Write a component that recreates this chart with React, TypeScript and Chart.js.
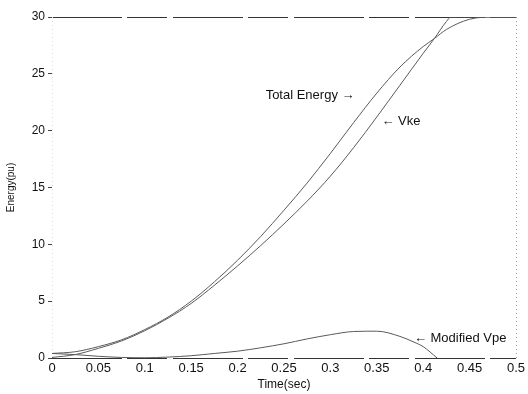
import React, { useEffect, useRef } from "react";
import { Chart, registerables } from "chart.js";

Chart.register(...registerables);

// Time samples (sec) and energies (pu)
const timeTotal = [0, 0.025, 0.05, 0.075, 0.1, 0.125, 0.15, 0.175, 0.2, 0.225, 0.25, 0.275, 0.3, 0.325, 0.35, 0.375, 0.4, 0.412, 0.425, 0.45, 0.475, 0.5];
const totalEnergy = [0.4, 0.55, 1.0, 1.6, 2.5, 3.6, 5.0, 6.7, 8.6, 10.7, 13.0, 15.4, 18.0, 20.7, 23.3, 25.6, 27.4, 28.1, 28.9, 29.8, 30.0, 30.0];

const timeVke = [0, 0.025, 0.05, 0.075, 0.1, 0.125, 0.15, 0.175, 0.2, 0.225, 0.25, 0.275, 0.3, 0.325, 0.35, 0.375, 0.4, 0.412, 0.425, 0.43, 0.45, 0.5];
const vke = [0.05, 0.3, 0.85, 1.5, 2.4, 3.5, 4.8, 6.4, 8.1, 9.9, 11.8, 13.8, 16.0, 18.5, 21.2, 24.0, 26.8, 28.1, 29.6, 30.0, 30.0, 30.0];

const timeVpe = [0, 0.025, 0.05, 0.075, 0.1, 0.125, 0.15, 0.175, 0.2, 0.225, 0.25, 0.275, 0.3, 0.325, 0.35, 0.375, 0.39, 0.4, 0.415];
const modifiedVpe = [0.4, 0.3, 0.15, 0.05, 0.02, 0.08, 0.2, 0.4, 0.6, 0.9, 1.25, 1.68, 2.05, 2.33, 2.36, 1.9, 1.4, 1.0, 0.0];

const xTickLabels = ["0", "0.05", "0.1", "0.15", "0.2", "0.25", "0.3", "0.35", "0.4", "0.45", "0.5"];
const yTickLabels = ["0", "5", "10", "15", "20", "25", "30"];

// Annotations: [text, x, y, align]
const annotations: [string, number, number, CanvasTextAlign][] = [
  ["Total Energy \u2192", 0.326, 23.1, "right"],
  ["\u2190 Vke", 0.355, 20.8, "left"],
  ["\u2190 Modified Vpe", 0.39, 1.76, "left"],
];

const FONT = "Arial, 'Liberation Sans', 'DejaVu Sans', sans-serif";

const toPts = (xs: number[], ys: number[]) => xs.map((x, i) => ({ x, y: ys[i] }));

export default function App() {
  const ref = useRef<HTMLCanvasElement>(null);
  useEffect(() => {
    if (!ref.current) return;
    const framePlugin = {
      id: "frame",
      beforeDatasetsDraw(chart: any) {
        const { ctx, chartArea: a } = chart;
        ctx.save();
        ctx.strokeStyle = "#333";
        ctx.lineWidth = 1;
        ctx.setLineDash([70, 5, 40, 6]);
        ctx.beginPath();
        ctx.moveTo(a.left, a.top + 0.5);
        ctx.lineTo(a.right, a.top + 0.5);
        ctx.moveTo(a.left, a.bottom + 0.5);
        ctx.lineTo(a.right, a.bottom + 0.5);
        ctx.stroke();
        ctx.setLineDash([1, 3]);
        ctx.strokeStyle = "#999";
        ctx.beginPath();
        ctx.moveTo(a.right + 0.5, a.top);
        ctx.lineTo(a.right + 0.5, a.bottom);
        ctx.stroke();
        ctx.strokeStyle = "#ddd";
        ctx.beginPath();
        ctx.moveTo(a.left + 0.5, a.top);
        ctx.lineTo(a.left + 0.5, a.bottom);
        ctx.stroke();
        ctx.restore();
      },
      afterDatasetsDraw(chart: any) {
        const { ctx, scales } = chart;
        ctx.save();
        ctx.fillStyle = "#111";
        ctx.font = `13px ${FONT}`;
        ctx.textBaseline = "middle";
        for (const [text, x, y, align] of annotations) {
          ctx.textAlign = align;
          ctx.fillText(text, scales.x.getPixelForValue(x), scales.y.getPixelForValue(y));
        }
        ctx.restore();
      },
    };

    const lineStyle = {
      borderColor: "#5a5a5a",
      borderWidth: 1,
      pointRadius: 0,
      fill: false,
      cubicInterpolationMode: "monotone" as const,
    };

    const chart = new Chart(ref.current, {
      type: "line",
      data: {
        datasets: [
          { label: "Total Energy", data: toPts(timeTotal, totalEnergy), ...lineStyle },
          { label: "Vke", data: toPts(timeVke, vke), ...lineStyle },
          { label: "Modified Vpe", data: toPts(timeVpe, modifiedVpe), ...lineStyle },
        ],
      },
      options: {
        animation: false,
        responsive: false,
        layout: { padding: { top: 17, right: 11, left: 0, bottom: 0 } },
        plugins: { legend: { display: false }, tooltip: { enabled: false } },
        scales: {
          x: {
            type: "linear",
            min: 0,
            max: 0.5,
            border: { display: false },
            grid: { display: false, drawTicks: false },
            ticks: {
              stepSize: 0.05,
              padding: 3,
              color: "#111",
              font: { family: FONT, size: 13 },
              maxRotation: 0,
              autoSkip: false,
              callback: (_v: any, i: number) => xTickLabels[i],
            },
            title: {
              display: true,
              text: "Time(sec)",
              color: "#111",
              font: { family: FONT, size: 12 },
              padding: { top: 0, bottom: 2 },
            },
            afterFit: (s: any) => {
              s.height = 36;
            },
          },
          y: {
            type: "linear",
            min: 0,
            max: 30,
            border: { display: false },
            grid: { drawOnChartArea: false, drawTicks: true, tickLength: 4, color: "#444" },
            ticks: {
              stepSize: 5,
              padding: 3,
              color: "#111",
              font: { family: FONT, size: 12 },
              callback: (_v: any, i: number) => yTickLabels[i],
            },
            title: {
              display: true,
              text: "Energy(pu)",
              color: "#111",
              font: { family: FONT, size: 10 },
              padding: { top: 5, bottom: 0 },
            },
            afterFit: (s: any) => {
              s.width = 52;
            },
          },
        },
      },
      plugins: [framePlugin],
    });
    return () => chart.destroy();
  }, []);

  return (
    <div style={{ position: "absolute", left: 0, top: 0, width: 528, height: 394, background: "#fff" }}>
      <canvas ref={ref} width={528} height={394} />
    </div>
  );
}
